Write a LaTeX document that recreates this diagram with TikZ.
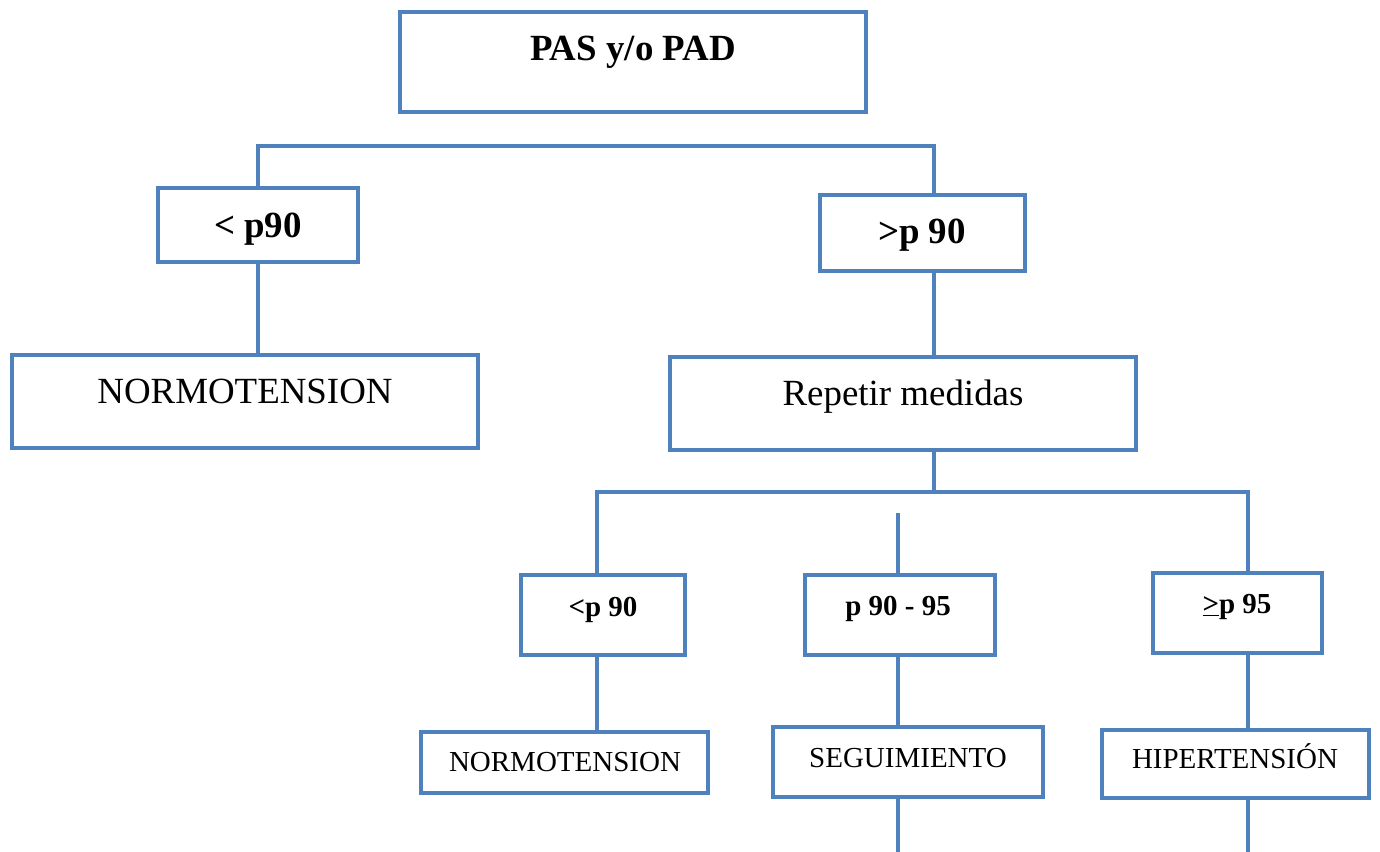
\documentclass[tikz,border=0pt]{standalone}
\usepackage{fontspec}
\setmainfont{Liberation Serif}
\usepackage{xcolor}
\usetikzlibrary{positioning,calc}
\definecolor{boxblue}{HTML}{4F81BD}

\begin{document}
\begin{tikzpicture}[
    x=0.02cm, y=-0.02cm,
    box/.style={rectangle, draw=boxblue, line width=2.3pt, fill=white, inner sep=0pt},
    bigtxt/.style={anchor=base, inner sep=0pt, font=\fontsize{21}{25}\selectfont},
    smalltxt/.style={anchor=base, inner sep=0pt, font=\fontsize{16.5}{20}\selectfont},
    conn/.style={draw=boxblue, line width=2pt}
]
\useasboundingbox (0,0) rectangle (1380,852);
% ----- Level 1: root -----
\node[box, minimum width=9.32cm, minimum height=2.0cm] (top) at (633,62) {};
\node[bigtxt] (toptxt) at (633,60) {\textbf{PAS y/o PAD}};
% ----- Level 2: first percentile split -----
\node[box, minimum width=4.0cm, minimum height=1.48cm] (lt) at (258,225) {};
\node[bigtxt] (lttxt) at (258,237) {\textbf{< p90}};
\node[box, minimum width=4.1cm, minimum height=1.52cm] (gt) at (922.5,233) {};
\node[bigtxt] (gttxt) at (922,243) {\textbf{>p 90}};
% ----- Level 3 -----
\node[box, minimum width=9.32cm, minimum height=1.86cm] (normo) at (245,401.5) {};
\node[bigtxt] (normotxt) at (245,403) {NORMOTENSION};
\node[box, minimum width=9.32cm, minimum height=1.86cm] (rep) at (903,403.5) {};
\node[bigtxt] (reptxt) at (903,405) {Repetir medidas};
% ----- Level 4: after repeated measures -----
\node[box, minimum width=3.28cm, minimum height=1.6cm] (c1) at (603,615) {};
\node[smalltxt] (c1txt) at (603,616) {\textbf{<p 90}};
\node[box, minimum width=3.8cm, minimum height=1.6cm] (c2) at (900,615) {};
\node[smalltxt] (c2txt) at (898,615) {\textbf{p 90 - 95}};
\node[box, minimum width=3.38cm, minimum height=1.6cm] (c3) at (1237.5,613) {};
\node[smalltxt] (c3txt) at (1237,613) {\textbf{\underline{>}p 95}};
% ----- Level 5: outcomes -----
\node[box, minimum width=5.74cm, minimum height=1.22cm] (d1) at (564.5,762.5) {};
\node[smalltxt] (d1txt) at (565,771) {NORMOTENSION};
\node[box, minimum width=5.4cm, minimum height=1.4cm] (d2) at (908,762) {};
\node[smalltxt] (d2txt) at (908,767) {SEGUIMIENTO};
\node[box, minimum width=5.34cm, minimum height=1.36cm] (d3) at (1235.5,764) {};
\node[smalltxt] (d3txt) at (1235,768) {HIPERTENSIÓN};
% ----- connectors -----
\coordinate (j1) at (258,146);
\coordinate (j2) at (934,146);
\draw[conn] (lt.north) -- (j1) -- (j2) -- (j2 |- gt.north);
\draw[conn] (lt.south) -- (normo.north -| lt.south);
\draw[conn] (gt.south -| j2) -- (rep.north -| j2);
\coordinate (j3) at (934,492);
\coordinate (j4) at (597,492);
\coordinate (j5) at (1248,492);
\coordinate (j6) at (898,513);
\draw[conn] (rep.south -| j3) -- (j3);
\draw[conn] (j4 |- c1.north) -- (j4) -- (j5) -- (j5 |- c3.north);
\draw[conn] (j6) -- (j6 |- c2.north);
\draw[conn] (c1.south -| j4) -- (d1.north -| j4);
\draw[conn] (c2.south -| j6) -- (d2.north -| j6);
\draw[conn] (c3.south -| j5) -- (d3.north -| j5);
\coordinate (e2) at (898,852);
\coordinate (e3) at (1248,852);
\draw[conn] (d2.south -| e2) -- (e2);
\draw[conn] (d3.south -| e3) -- (e3);
\end{tikzpicture}
\end{document}
